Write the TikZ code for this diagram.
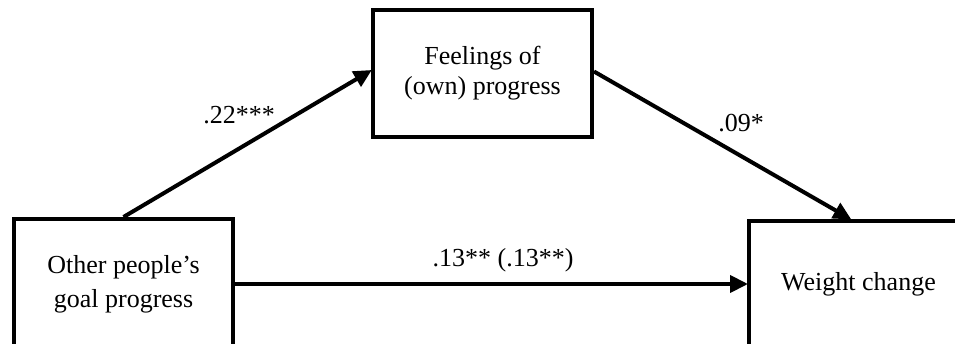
\documentclass[tikz,border=0pt]{standalone}
\usepackage{fontspec}
\setmainfont{Liberation Serif}
\usetikzlibrary{arrows.meta}
\begin{document}
\begin{tikzpicture}[x=1pt,y=1pt,
  box/.style={draw=black,line width=4pt,fill=white,minimum width=219pt,align=center,inner sep=0pt},
  conn/.style={line width=4pt,-{Triangle[length=18pt,width=17pt]},shorten >=-1pt},
  lab/.style={font=\fontsize{26}{30}\selectfont,inner sep=0pt}]
\useasboundingbox (0,0) rectangle (955,343);
\clip (0,0) rectangle (955,343);
\fill[white] (0,0) rectangle (955,343);
\node[box,minimum height=130pt,font=\fontsize{26}{34}\selectfont] (L) at (123.5,59) {Other people's\\goal progress};
\node[box,minimum height=127pt,font=\fontsize{26}{30}\selectfont] (T) at (482.5,269.5) {Feelings of\\(own) progress};
\node[box,minimum height=126pt,font=\fontsize{26}{30}\selectfont] (R) at (858.5,59) {Weight change};
\draw[conn] (L.north) -- ([yshift=3pt]T.west);
\draw[conn] ([yshift=2pt]T.east) -- ([xshift=-8pt]R.north);
\draw[conn] (L.east) -- (R.west);
\node[lab] (a) at (239,228) {.22***};
\node[lab] (b) at (741,220) {.09*};
\node[lab] (c) at (503,83) {.13** (.13**)};
\end{tikzpicture}
\end{document}
